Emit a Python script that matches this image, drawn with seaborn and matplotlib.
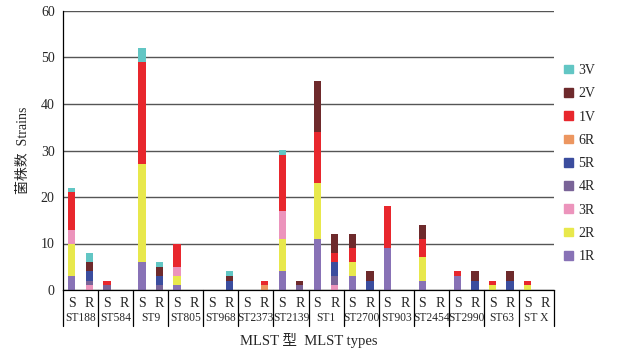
import numpy as np
import pandas as pd
import seaborn as sns
import matplotlib
matplotlib.use("Agg")
import matplotlib.pyplot as plt
from matplotlib.patches import Patch

# MLST groups, each with an S bar and an R bar
groups = ['ST188', 'ST584', 'ST9', 'ST805', 'ST968', 'ST2373', 'ST2139',
          'ST1', 'ST2700', 'ST903', 'ST2454', 'ST2990', 'ST63', 'ST X']
sides = ['S', 'R']
types = ['1R', '2R', '3R', '4R', '5R', '6R', '1V', '2V', '3V']

# counts per type, one entry per bar (ST188 S, ST188 R, ST584 S, ...)
c_1R = [3, 0, 0, 0, 6, 0, 1, 0, 0, 0, 0, 0, 4, 0, 11, 0, 3, 0, 9, 0, 2, 0, 3, 0, 0, 0, 0, 0]
c_2R = [7, 0, 0, 0, 21, 0, 2, 0, 0, 0, 0, 0, 7, 0, 12, 0, 3, 0, 0, 0, 5, 0, 0, 0, 1, 0, 1, 0]
c_3R = [3, 1, 0, 0, 0, 0, 2, 0, 0, 0, 0, 0, 6, 0, 0, 1, 0, 0, 0, 0, 0, 0, 0, 0, 0, 0, 0, 0]
c_4R = [0, 1, 1, 0, 0, 1, 0, 0, 0, 0, 0, 0, 0, 1, 0, 2, 0, 0, 0, 0, 0, 0, 0, 0, 0, 0, 0, 0]
c_5R = [0, 2, 0, 0, 0, 2, 0, 0, 0, 2, 0, 0, 0, 0, 0, 3, 0, 2, 0, 0, 0, 0, 0, 2, 0, 2, 0, 0]
c_6R = [0, 0, 0, 0, 0, 0, 0, 0, 0, 0, 0, 1, 0, 0, 0, 0, 0, 0, 0, 0, 0, 0, 0, 0, 0, 0, 0, 0]
c_1V = [8, 0, 1, 0, 22, 0, 5, 0, 0, 0, 0, 1, 12, 0, 11, 2, 3, 0, 9, 0, 4, 0, 1, 0, 1, 0, 1, 0]
c_2V = [0, 2, 0, 0, 0, 2, 0, 0, 0, 1, 0, 0, 0, 1, 11, 4, 3, 2, 0, 0, 3, 0, 0, 2, 0, 2, 0, 0]
c_3V = [1, 2, 0, 0, 3, 1, 0, 0, 0, 1, 0, 0, 1, 0, 0, 0, 0, 0, 0, 0, 0, 0, 0, 0, 0, 0, 0, 0]

colors = {'1R': '#8872b6', '2R': '#e8e84c', '3R': '#ec94bc', '4R': '#7a6498',
          '5R': '#3b4d9e', '6R': '#ec9660', '1V': '#e8272d', '2V': '#6e2a2c',
          '3V': '#62c6c4'}

counts = [c_1R, c_2R, c_3R, c_4R, c_5R, c_6R, c_1V, c_2V, c_3V]
rows = []
for t, vals in zip(types, counts):
    for i, v in enumerate(vals):
        rows.append({'pos': i, 'type': t, 'n': v})
df = pd.DataFrame(rows)

sns.set_theme(style='white')
plt.rcParams['font.family'] = ['Liberation Serif', 'Noto Sans CJK SC']

fig = plt.figure(figsize=(6.23, 3.55), dpi=100)
ax = fig.add_axes([63/623, 65/355, 491/623, 279/355])

hue_order = types[::-1]  # first level ends up on top of the stack
sns.histplot(data=df, x='pos', weights='n', hue='type', hue_order=hue_order,
             multiple='stack', discrete=True, shrink=0.42, palette=colors,
             alpha=1, linewidth=0, legend=False, ax=ax)

ax.set_xlim(-0.5, 27.5)
ax.set_ylim(0, 60)
ax.set_yticks(range(0, 61, 10))
ax.yaxis.grid(True, color='#555555', linewidth=1)
ax.set_axisbelow(True)
ax.tick_params(axis='y', length=0, labelsize=10, pad=6)
for s in ['top', 'right']:
    ax.spines[s].set_visible(False)
for s in ['left', 'bottom']:
    ax.spines[s].set_color('black')
    ax.spines[s].set_linewidth(0.9)

ax.set_xticks(range(len(groups) * 2))
ax.set_xticklabels(sides * len(groups), fontsize=10)
ax.tick_params(axis='x', length=0, pad=5)

# group names and separators under the axis
tr = ax.get_xaxis_transform()
for g in range(len(groups) + 1):
    ax.plot([2*g - 0.5, 2*g - 0.5], [0, -0.13], color='black', lw=0.9,
            transform=tr, clip_on=False)
for g, name in enumerate(groups):
    ax.text(2*g + 0.5, -0.1, name, transform=tr, ha='center', va='center',
            fontsize=8.3)

ax.set_xlabel('')
ax.text(0.5, -0.18, 'MLST 型  MLST types', transform=ax.transAxes,
        ha='center', va='center', fontsize=10.5)
ax.set_ylabel('菌株数  Strains', fontsize=10, labelpad=8)

handles = [Patch(color=colors[t], label=t) for t in hue_order]
ax.legend(handles=handles, loc='upper left', bbox_to_anchor=(1.01, 0.83),
          frameon=False, fontsize=10, handlelength=0.6, handleheight=0.6,
          handletextpad=0.4, labelspacing=0.74, borderaxespad=0)

fig.savefig('out.png', dpi=100)
